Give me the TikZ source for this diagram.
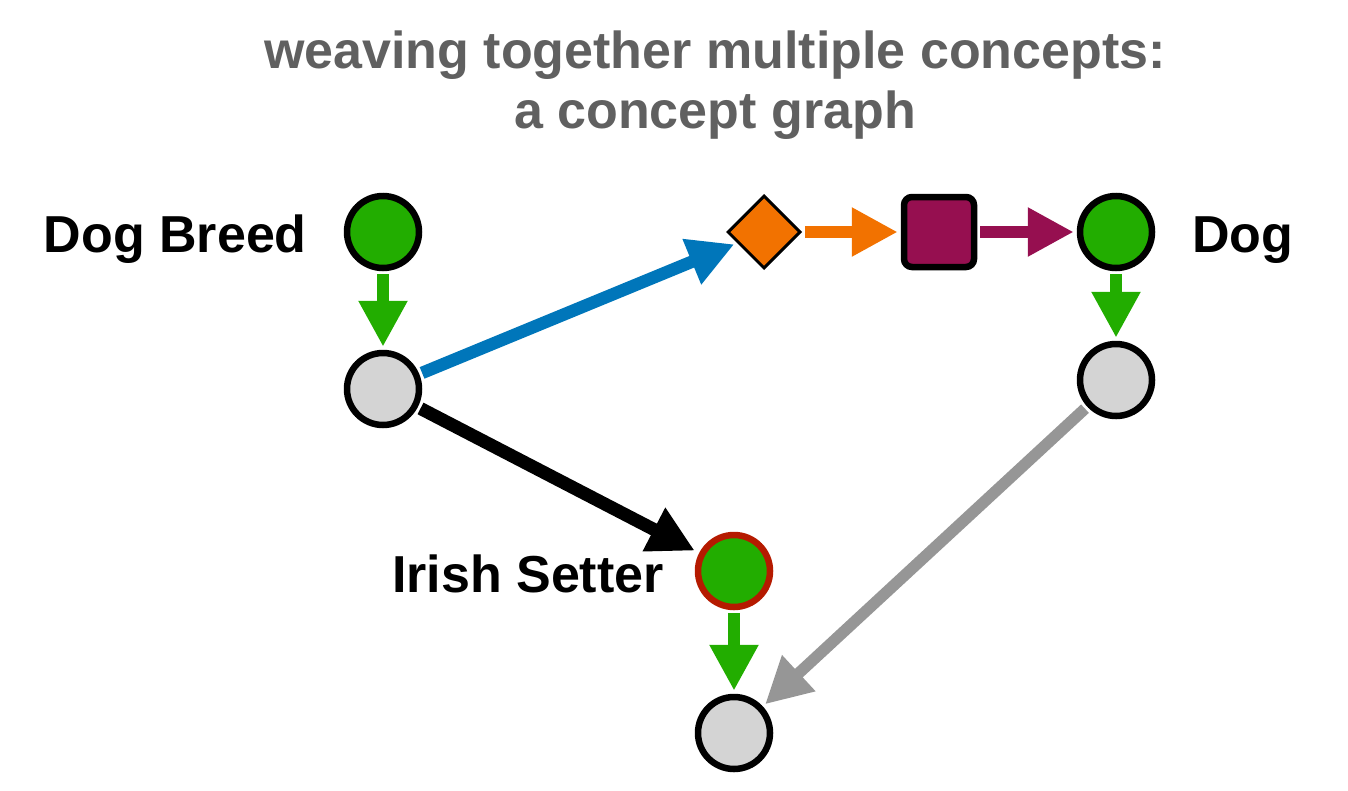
\documentclass[tikz,border=0pt]{standalone}
\usepackage{fontspec}
\setmainfont{Liberation Sans}
\usetikzlibrary{arrows.meta,shapes.geometric}
\definecolor{cgreen}{HTML}{22AD00}
\definecolor{cgray}{HTML}{D4D4D4}
\definecolor{cred}{HTML}{B51A00}
\definecolor{cpurple}{HTML}{960F50}
\definecolor{corange}{HTML}{F27200}
\definecolor{cblue}{HTML}{0076BA}
\definecolor{carrgray}{HTML}{969696}
\definecolor{ctitle}{HTML}{606060}
\begin{document}
\begin{tikzpicture}[x=1pt,y=-1pt,
  concept/.style={circle,draw=black,line width=6.5pt,fill=cgreen,minimum size=72pt,inner sep=0pt},
  inst/.style={concept,fill=cgray},
  relbox/.style={rectangle,draw=black,line width=6.5pt,fill=cpurple,minimum size=70pt,inner sep=0pt,rounded corners=8pt},
  rolebox/.style={diamond,draw=black,line width=3pt,fill=corange,minimum width=73pt,minimum height=73pt,inner sep=0pt,aspect=1},
  lbl/.style={font=\fontsize{52}{60}\selectfont\bfseries,inner sep=0pt},
  arr/.style={line width=12.5pt,-{Triangle[length=46pt,width=46pt]},shorten <=3pt,shorten >=3pt},
]
\useasboundingbox (0,0) rectangle (1348,790);

% title
\node[lbl,text=ctitle,anchor=base] (t1) at (715,68) {weaving together multiple concepts:};
\node[lbl,text=ctitle,anchor=base] (t2) at (715,128) {a concept graph};

% nodes
\node[concept] (db) at (383,232) {};
\node[inst] (dbi) at (383,389) {};
\node[rolebox] (role) at (764,232) {};
\node[relbox] (rel) at (939,232) {};
\node[concept] (dog) at (1116,232) {};
\node[inst] (dogi) at (1116,380) {};
\node[concept,draw=cred] (is) at (734,571) {};
\node[inst] (isi) at (734,733) {};

% labels
\node[lbl,anchor=base east] (ldb) at (307,252) {Dog Breed};
\node[lbl,anchor=base west] (ldog) at (1192,252) {Dog};
\node[lbl,anchor=base east] (lis) at (664,592) {Irish Setter};

% connectors
\draw[arr,draw=cgreen] (db) -- (dbi);
\draw[arr,draw=cblue] (dbi) -- (role);
\draw[arr,draw=corange] (role) -- (rel);
\draw[arr,draw=cpurple] (rel) -- (dog);
\draw[arr,draw=cgreen] (dog) -- (dogi);
\draw[arr,draw=black,line width=13pt,shorten >=5pt] (dbi) -- (is);
\draw[arr,draw=cgreen] (is) -- (isi);
\draw[arr,draw=carrgray,line width=11.5pt] (dogi) -- (isi);
\end{tikzpicture}
\end{document}
